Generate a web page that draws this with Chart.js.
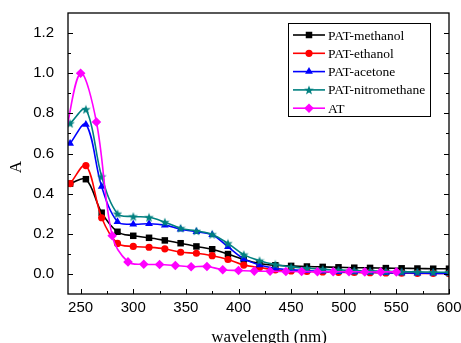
<!DOCTYPE html>
<html>
<head>
<meta charset="utf-8">
<script src="https://cdn.jsdelivr.net/npm/chart.js@4.4.1/dist/chart.umd.min.js"></script>
<style>
    html, body { margin: 0; padding: 0; background: #ffffff; }
    #wrap { width: 461px; height: 343px; position: relative; }
</style>
</head>
<body>
<div id="wrap"><canvas id="absChart"></canvas></div>
<script>
// UV-vis absorbance spectra
const patWavelengths = [240, 255, 270, 285, 300, 315, 330, 345, 360, 375, 390, 405, 420,
    435, 450, 465, 480, 495, 510, 525, 540, 555, 570, 585, 600];
const atWavelengths = [235, 250, 265, 280, 295, 310, 325, 340, 355, 370, 385, 400, 415,
    430, 445, 460, 475, 490, 505, 520, 535, 550];

const methanol = [0.45, 0.472, 0.305, 0.21, 0.19, 0.18, 0.167, 0.153, 0.137, 0.123, 0.099, 0.072, 0.052,
    0.043, 0.040, 0.037, 0.035, 0.033, 0.031, 0.030, 0.029, 0.028, 0.027, 0.026, 0.026];
const ethanol = [0.45, 0.54, 0.28, 0.152, 0.137, 0.133, 0.125, 0.108, 0.103, 0.091, 0.072, 0.044, 0.032,
    0.020, 0.015, 0.012, 0.010, 0.008, 0.007, 0.006, 0.005, 0.004, 0.003, 0.003, 0.002];
const acetone = [0.65, 0.745, 0.435, 0.26, 0.248, 0.25, 0.243, 0.223, 0.21, 0.195, 0.135, 0.075, 0.045,
    0.028, 0.020, 0.016, 0.013, 0.011, 0.009, 0.008, 0.006, 0.005, 0.004, 0.003, 0.003];
const nitromethane = [0.75, 0.82, 0.485, 0.30, 0.286, 0.282, 0.258, 0.228, 0.214, 0.197, 0.152, 0.096, 0.066,
    0.047, 0.035, 0.028, 0.023, 0.020, 0.017, 0.015, 0.013, 0.011, 0.010, 0.009, 0.008];
const atValues = [0.68, 1.0, 0.757, 0.19, 0.06, 0.048, 0.047, 0.042, 0.036, 0.037, 0.021, 0.017, 0.014,
    0.013, 0.012, 0.012, 0.011, 0.011, 0.011, 0.010, 0.010, 0.010];

const seriesNames = ['PAT-methanol', 'PAT-ethanol', 'PAT-acetone', 'PAT-nitromethane', 'AT'];

const xTicks = [250, 300, 350, 400, 450, 500, 550, 600];
const xMinor = [275, 325, 375, 425, 475, 525, 575];
const yTicks = [0.0, 0.2, 0.4, 0.6, 0.8, 1.0, 1.2];
const yMinor = [0.1, 0.3, 0.5, 0.7, 0.9, 1.1];

const serif = '"Liberation Serif", "Times New Roman", serif';
const sans = '"Liberation Sans", Arial, sans-serif';

// filled five point star for the nitromethane markers
function makeStar(color) {
    const c = document.createElement('canvas');
    c.width = 10; c.height = 10;
    const g = c.getContext('2d');
    g.fillStyle = color;
    g.beginPath();
    for (let i = 0; i < 10; i++) {
        const r = i % 2 === 0 ? 5 : 2.1;
        const a = -Math.PI / 2 + i * Math.PI / 5;
        const px = 5 + r * Math.cos(a), py = 5.4 + r * Math.sin(a);
        if (i === 0) g.moveTo(px, py); else g.lineTo(px, py);
    }
    g.closePath();
    g.fill();
    return c;
}
const tealStar = makeStar('#008080');

function pairs(xs, ys) {
    return xs.map((x, i) => ({ x: x, y: ys[i] }));
}

function makeSet(label, xs, ys, color, style, radius, order) {
    return {
        label: label,
        data: pairs(xs, ys),
        borderColor: color,
        backgroundColor: color,
        borderWidth: 1.6,
        pointStyle: style,
        pointRadius: radius,
        pointBorderWidth: 0,
        pointHoverRadius: radius,
        tension: 0.35,
        fill: false,
        order: order
    };
}

const datasets = [
    makeSet(seriesNames[0], patWavelengths, methanol, '#000000', 'rect', 4.6, 4),
    makeSet(seriesNames[1], patWavelengths, ethanol, '#ff0000', 'circle', 3.6, 3),
    makeSet(seriesNames[2], patWavelengths, acetone, '#0000ff', 'triangle', 4.5, 2),
    makeSet(seriesNames[3], patWavelengths, nitromethane, '#008080', tealStar, 5, 1),
    makeSet(seriesNames[4], atWavelengths, atValues, '#ff00ff', 'rectRot', 4.8, 0)
];
// first AT point sits left of the axis, no marker there
datasets[4].pointRadius = ctx => ctx.dataIndex === 0 ? 0 : 4.8;

// Origin style frame with inward ticks
const framePlugin = {
    id: 'frame',
    afterDatasetsDraw(chart) {
        const { ctx, chartArea: a } = chart;
        const xs = chart.scales.x, ys = chart.scales.y;
        ctx.save();
        ctx.strokeStyle = '#000000';
        ctx.lineWidth = 1.3;
        ctx.strokeRect(a.left, a.top, a.right - a.left, a.bottom - a.top);
        ctx.lineWidth = 1;
        ctx.beginPath();
        yTicks.forEach(v => {
            const p = Math.round(ys.getPixelForValue(v)) + 0.5;
            ctx.moveTo(a.left, p); ctx.lineTo(a.left + 5, p);
            ctx.moveTo(a.right, p); ctx.lineTo(a.right - 5, p);
        });
        yMinor.forEach(v => {
            const p = Math.round(ys.getPixelForValue(v)) + 0.5;
            ctx.moveTo(a.left, p); ctx.lineTo(a.left + 3, p);
            ctx.moveTo(a.right, p); ctx.lineTo(a.right - 3, p);
        });
        xTicks.forEach(v => {
            const p = Math.round(xs.getPixelForValue(v)) + 0.5;
            ctx.moveTo(p, a.bottom); ctx.lineTo(p, a.bottom - 5);
        });
        xMinor.forEach(v => {
            const p = Math.round(xs.getPixelForValue(v)) + 0.5;
            ctx.moveTo(p, a.bottom); ctx.lineTo(p, a.bottom - 3);
        });
        ctx.stroke();
        ctx.restore();
    },
    afterDraw(chart) {
        const ctx = chart.ctx;
        ctx.save();
        ctx.fillStyle = '#000000';
        // axis titles
        ctx.font = '17px ' + serif;
        ctx.textAlign = 'center';
        ctx.textBaseline = 'alphabetic';
        ctx.fillText('wavelength (nm)', 269, 342);
        ctx.translate(21, 167);
        ctx.rotate(-Math.PI / 2);
        ctx.fillText('A', 0, 0);
        ctx.restore();

        // legend box
        ctx.save();
        ctx.strokeStyle = '#000000';
        ctx.lineWidth = 1;
        ctx.strokeRect(288.5, 23.5, 142, 93);
        ctx.font = '13.5px ' + serif;
        ctx.textAlign = 'left';
        ctx.textBaseline = 'middle';
        chart.data.datasets.forEach((ds, i) => {
            const y = 35 + i * 18.3;
            ctx.strokeStyle = ds.borderColor;
            ctx.fillStyle = ds.borderColor;
            ctx.lineWidth = 1.6;
            ctx.beginPath();
            ctx.moveTo(293, y); ctx.lineTo(325, y);
            ctx.stroke();
            const r = typeof ds.pointRadius === 'function' ? 4.8 : ds.pointRadius;
            Chart.helpers.drawPoint(ctx, { pointStyle: ds.pointStyle, radius: r, rotation: 0, borderWidth: 0 }, 309, y);
            ctx.fillStyle = '#000000';
            ctx.fillText(ds.label, 328, y + 1);
        });
        ctx.restore();
    }
};

const ctx = document.getElementById('absChart').getContext('2d');
const absChart = new Chart(ctx, {
    type: 'line',
    data: { datasets: datasets },
    options: {
        responsive: true,
        maintainAspectRatio: false,
        animation: false,
        layout: { padding: { left: 0, right: 12, top: 13, bottom: 0 } },
        plugins: {
            legend: { display: false },
            tooltip: { enabled: false }
        },
        scales: {
            x: {
                type: 'linear',
                min: 238,
                max: 600,
                afterBuildTicks: s => { s.ticks = xTicks.map(v => ({ value: v })); },
                afterFit: s => { s.height = 49; s.paddingLeft = 0; s.paddingRight = 0; },
                grid: { display: false },
                border: { display: false },
                ticks: {
                    color: '#000000',
                    padding: -3,
                    maxRotation: 0,
                    font: { family: sans, size: 15 }
                }
            },
            y: {
                min: -0.1,
                max: 1.3,
                afterBuildTicks: s => { s.ticks = yTicks.map(v => ({ value: v })); },
                afterFit: s => { s.width = 68; s.paddingTop = 0; s.paddingBottom = 0; },
                grid: { display: false },
                border: { display: false },
                ticks: {
                    color: '#000000',
                    padding: 6,
                    font: { family: sans, size: 15 },
                    callback: v => Number(v).toFixed(1)
                }
            }
        }
    },
    plugins: [framePlugin]
});
</script>
</body>
</html>
